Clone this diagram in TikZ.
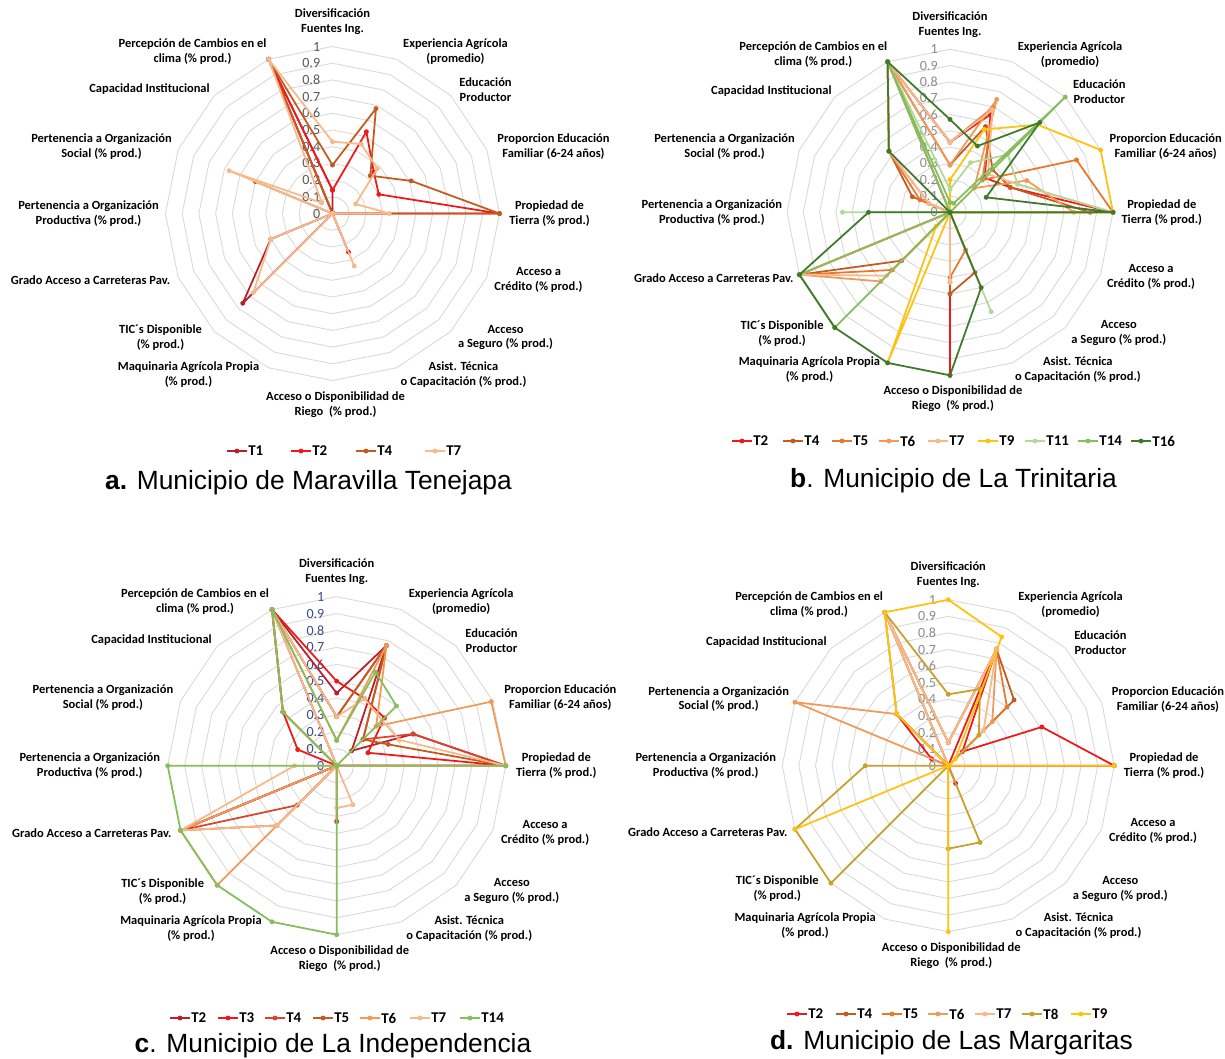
\documentclass[tikz,border=0pt]{standalone}
\usepackage{fontspec}
\setmainfont{Liberation Sans}
\newfontfamily\lblfont{Carlito}
\usetikzlibrary{positioning}

% colours
\definecolor{gridgray}{HTML}{D9D9D9}
\definecolor{tickgray}{HTML}{595959}
\definecolor{ticklight}{HTML}{8C8C8C}
\definecolor{tickblue}{HTML}{3C4B8A}
\definecolor{cDarkRed}{HTML}{B8202A}
\definecolor{cRed}{HTML}{F01818}
\definecolor{cRedOr}{HTML}{D9452B}
\definecolor{cBrown}{HTML}{C55A1E}
\definecolor{cOrange}{HTML}{E8782F}
\definecolor{cLtOr}{HTML}{F09A5A}
\definecolor{cPale}{HTML}{F6B98A}
\definecolor{cOlive}{HTML}{C9A02C}
\definecolor{cYellow}{HTML}{FFC20E}
\definecolor{cLtGreen}{HTML}{B3D99A}
\definecolor{cGreen}{HTML}{86BE5C}
\definecolor{cDkGreen}{HTML}{3F7A2A}

\tikzset{
  gridline/.style={gridgray, line width=0.5pt},
  axislbl/.style={font=\lblfont\bfseries\fontsize{7.1}{8.5}\selectfont, align=center, inner sep=0pt},
  ticklbl/.style={font=\lblfont\fontsize{8}{9}\selectfont, anchor=east, inner sep=0pt},
  serieline/.style={line width=1pt, line join=round},
  legtxt/.style={font=\lblfont\bfseries\fontsize{8.5}{10}\selectfont, anchor=west, inner sep=0pt},
  capt/.style={font=\fontsize{15}{18}\selectfont, inner sep=0pt}
}

% rings, scale values and axis names of one radar chart
\newcommand\radargrid[5]{%
  \foreach \r in {1,...,10}{%
    \draw[gridline] (-90:{\r*#4/10}) \foreach \k in {1,...,15}{ -- ({-90+22.5*\k}:{\r*#4/10})} -- cycle;
  }
  \foreach \i/\t in {0/0,1/0.1,2/0.2,3/0.3,4/0.4,5/0.5,6/0.6,7/0.7,8/0.8,9/0.9,10/1}
    \node[ticklbl, text=#5] (#1t\i) at (-12,{-\i*#4/10}) {\t};
  \foreach \k/\dx/\dy/\t in {
      0/0/-192/{Diversificación\\Fuentes Ing.},
      1/123/-162/{Experiencia Agrícola\\(promedio)},
      2/153/-124/{Educación\\Productor},
      3/221/-67/{Proporcion Educación\\Familiar (6-24 años)},
      4/217/0/{Propiedad de\\Tierra (\% prod.)},
      5/206/66/{Acceso a\\Crédito (\% prod.)},
      6/173/124/{Acceso\\a Seguro (\% prod.)},
      7/131/161/{Asist. Técnica\\o Capacitación (\% prod.)},
      8/3/191/{Acceso o Disponibilidad de\\Riego\ \ (\% prod.)},
      9/-144/161/{Maquinaria Agrícola Propia\\(\% prod.)},
      10/-172/124/{TIC´s Disponible\\(\% prod.)},
      11/-242/67/{Grado Acceso a Carreteras Pav.},
      12/-244/0/{Pertenencia a Organización\\Productiva (\% prod.)},
      13/-231/-67/{Pertenencia a Organización\\Social (\% prod.)},
      14/-183/-124/{Capacidad Institucional},
      15/-140/-162/{Percepción de Cambios en el\\clima (\% prod.)}}
    \node[axislbl] (#1l\k) at ({(#4/167)*\dx},{(#4/167)*\dy}) {\t};
}

% one series: colour, radius, 16 values
\newcommand\serie[3]{%
  \foreach \v [count=\k from 0] in {#3}{\coordinate (s\k) at ({-90+22.5*\k}:{\v*#2});}
  \draw[serieline,#1] (s0)--(s1)--(s2)--(s3)--(s4)--(s5)--(s6)--(s7)--(s8)--(s9)--(s10)--(s11)--(s12)--(s13)--(s14)--(s15)--cycle;
  \foreach \k in {0,...,15}{\fill[#1] (s\k) circle (1.4pt);}
}

% legend entry: name, colour, x, y, text
\newcommand\legitem[5]{%
  \draw[serieline,#2] (#3,#4) -- ++(20,0);
  \fill[#2] (#3+10,#4) circle (1.4pt);
  \node[legtxt] (#1) at (#3+21,#4) {#5};
}

\begin{document}
\begin{tikzpicture}[x=0.02cm, y=-0.02cm]
  \useasboundingbox[fill=white] (0,0) rectangle (1225,1059);

  % a. Maravilla Tenejapa
  \begin{scope}[shift={(332.5,213.5)}]
    \radargrid{a}{332.5}{213.5}{167}{tickgray}
    \serie{cDarkRed}{167}{.14,0,0,0,0,0,0,0,0,0,.76,.40,0,0,0,1}
    \serie{cRed}{167}{.14,.53,.35,.30,1,0,0,.25,0,0,0,0,0,0,0,1}
    \serie{cBrown}{167}{.29,.68,.32,.51,1,0,0,0,0,0,0,0,0,.50,0,1}
    \serie{cPale}{167}{.43,.45,.38,.15,.34,0,0,.34,0,0,.67,.40,0,.67,.09,1}
  \end{scope}
  \legitem{legaA}{cDarkRed}{227}{451}{T1}
  \legitem{legaB}{cRed}{291}{451}{T2}
  \legitem{legaC}{cBrown}{356}{451}{T4}
  \legitem{legaD}{cPale}{425}{451}{T7}
  \node[capt] (capa) at (308.5,483) {\textbf{a.} Municipio de Maravilla Tenejapa};

  % b. La Trinitaria
  \begin{scope}[shift={(950,212.3)}]
    \radargrid{b}{950}{212.3}{163}{ticklight}
    \serie{cRed}{163}{.43,.65,.30,.40,1,0,0,0,1,0,0,0,0,0,0,1}
    \serie{cBrown}{163}{.29,.57,.37,.40,.86,0,0,.40,.50,0,.42,1,0,.25,.53,1}
    \serie{cOrange}{163}{.43,.70,.28,.84,1,0,0,.25,.40,0,.50,1,0,.20,.53,1}
    \serie{cLtOr}{163}{.29,.75,.21,.51,.76,0,0,0,.43,0,.60,1,0,.14,.53,1}
    \serie{cPale}{163}{.43,.68,.33,.45,1,0,0,0,.43,0,.55,1,0,.14,.53,1}
    \serie{cYellow}{163}{.20,.55,.76,1,1,0,0,0,0,1,.12,0,0,0,0,0}
    \serie{cLtGreen}{163}{.14,.33,.50,.45,1,0,0,.66,0,0,0,0,.66,0,0,1}
    \serie{cGreen}{163}{.06,.06,1,0,0,0,0,0,0,0,1,1,0,0,0,1}
    \serie{cDkGreen}{163}{.57,.44,.78,.24,1,0,0,.50,1,1,1,1,.50,0,.53,1}
  \end{scope}
  \legitem{legbA}{cRed}{732}{441}{T2}
  \legitem{legbB}{cBrown}{783}{441}{T4}
  \legitem{legbC}{cOrange}{832}{441}{T5}
  \legitem{legbD}{cLtOr}{879}{441}{T6}
  \legitem{legbE}{cPale}{928}{441}{T7}
  \legitem{legbF}{cYellow}{978}{441}{T9}
  \legitem{legbG}{cLtGreen}{1025}{441}{T11}
  \legitem{legbH}{cGreen}{1078}{441}{T14}
  \legitem{legbI}{cDkGreen}{1131}{441}{T16}
  \node[capt] (capb) at (953.5,481) {\textbf{b}. Municipio de La Trinitaria};

  % c. La Independencia
  \begin{scope}[shift={(336.7,765.7)}]
    \radargrid{c}{336.7}{765.7}{169}{tickblue}
    \serie{cDarkRed}{169}{.43,.77,.125,.49,1,0,0,0,0,0,0,1,0,0,0,1}
    \serie{cRed}{169}{.50,.43,.40,.20,1,0,0,0,0,0,0,1,0,.25,.45,1}
    \serie{cRedOr}{169}{.29,.77,.22,.49,1,0,0,0,.33,0,.33,1,0,0,.45,1}
    \serie{cBrown}{169}{.29,.77,.22,.33,1,0,0,0,.33,0,.50,1,0,0,.45,1}
    \serie{cLtOr}{169}{.15,.77,.33,.99,1,0,0,0,0,0,1,1,0,0,.45,1}
    \serie{cPale}{169}{.29,.43,.38,.40,1,0,0,.25,.25,0,.50,1,.25,0,0,1}
    \serie{cGreen}{169}{.15,.60,.50,0,1,0,0,0,1,1,1,1,1,0,.45,1}
  \end{scope}
  \legitem{legcA}{cDarkRed}{170}{1018}{T2}
  \legitem{legcB}{cRed}{218}{1018}{T3}
  \legitem{legcC}{cRedOr}{265}{1018}{T4}
  \legitem{legcD}{cBrown}{313}{1018}{T5}
  \legitem{legcE}{cLtOr}{360}{1018}{T6}
  \legitem{legcF}{cPale}{410}{1018}{T7}
  \legitem{legcG}{cGreen}{460}{1018}{T14}
  \node[capt] (capc) at (333,1046) {\textbf{c}. Municipio de La Independencia};

  % d. Las Margaritas
  \begin{scope}[shift={(948.3,765.7)}]
    \radargrid{d}{948.3}{765.7}{166}{ticklight}
    \serie{cRed}{166}{0,.76,.12,.61,1,0,0,.115,0,0,0,0,0,.11,.44,0}
    \serie{cBrown}{166}{.14,.76,.56,0,0,0,0,0,0,0,0,0,0,0,0,1}
    \serie{cOrange}{166}{.14,.76,.50,0,0,0,0,0,0,0,0,0,0,0,0,1}
    \serie{cLtOr}{166}{.14,.76,.375,0,0,0,0,0,0,0,0,0,0,1,.44,1}
    \serie{cPale}{166}{.14,.76,.30,0,0,0,0,0,0,0,0,0,0,0,0,1}
    \serie{cOlive}{166}{.43,.50,.26,0,0,0,0,.50,.50,0,1,1,.50,0,.44,1}
    \serie{cYellow}{166}{1,.84,.06,0,1,0,0,0,1,0,0,1,0,0,.44,1}
  \end{scope}
  \legitem{legdA}{cRed}{787}{1014}{T2}
  \legitem{legdB}{cBrown}{836}{1014}{T4}
  \legitem{legdC}{cOrange}{882}{1014}{T5}
  \legitem{legdD}{cLtOr}{928}{1014}{T6}
  \legitem{legdE}{cPale}{975}{1014}{T7}
  \legitem{legdF}{cOlive}{1022}{1014}{T8}
  \legitem{legdG}{cYellow}{1071}{1014}{T9}
  \node[capt] (capd) at (951.5,1043) {\textbf{d.} Municipio de Las Margaritas};
\end{tikzpicture}
\end{document}
